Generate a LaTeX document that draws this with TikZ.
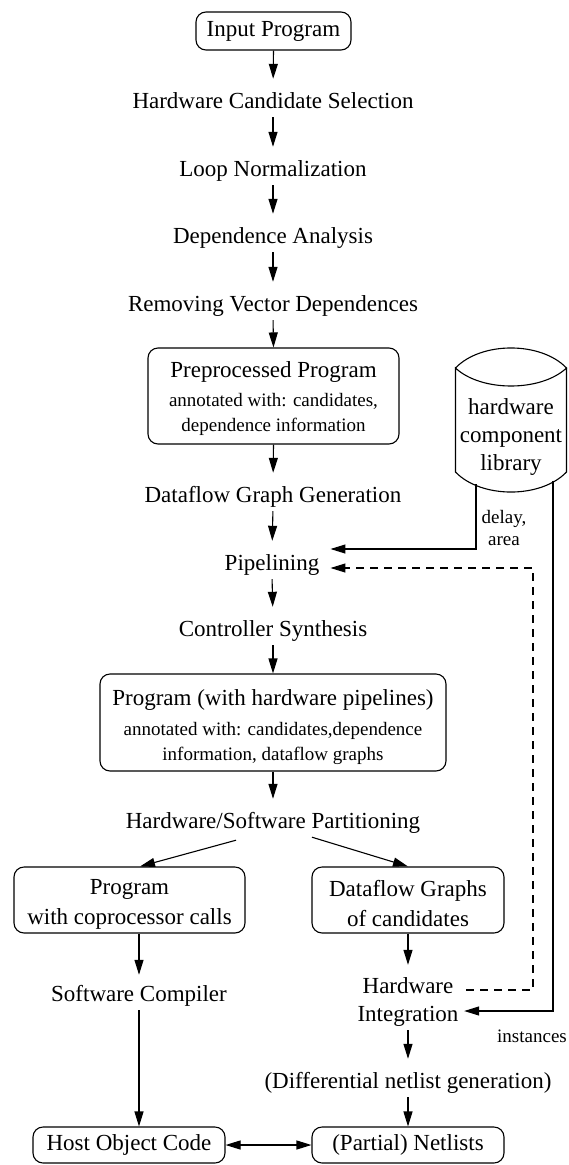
\documentclass[tikz,border=0pt]{standalone}
\usepackage{fontspec}
\setmainfont{Liberation Serif}
\usetikzlibrary{arrows.meta,calc}

\begin{document}
\begin{tikzpicture}[x=1pt,y=-1pt,
  >={Triangle[length=15pt,width=9pt]},
  every node/.style={font=\fontsize{23}{28}\selectfont, inner sep=0pt},
  txt/.style={text height=16pt,text depth=5pt},
  box/.style={draw,rounded corners=10pt,align=center,line width=1.1pt},
  flow/.style={->,line width=1.1pt},
  intext/.style={shorten >=13pt},
  fromtext/.style={shorten <=4pt},
  fb/.style={dash pattern=on 8pt off 6pt}
]
\newcommand{\sm}{\fontsize{19}{25}\selectfont}
\useasboundingbox (0,0) rectangle (568,1165);

% main column
\node[box,minimum width=155pt,minimum height=38pt] (inp) at (273.5,31) {Input Program};
\node[txt] (hcs) at (273,102.5) {Hardware Candidate Selection};
\node[txt] (ln)  at (273,170.5) {Loop Normalization};
\node[txt] (da)  at (273,237.5) {Dependence Analysis};
\node[txt] (rvd) at (273,305.5) {Removing Vector Dependences};
\node[box,minimum width=251pt,minimum height=96pt] (pre) at (273.5,396)
  {\rule{0pt}{22pt}Preprocessed Program\\[1pt]\sm annotated with: candidates,\\[-3pt]\sm dependence information};
\node[txt] (dgg) at (273,496.5) {Dataflow Graph Generation};
\node[txt] (pip) at (272,564.5) {Pipelining};
\node[txt] (cs)  at (273,630.5) {Controller Synthesis};
\node[box,minimum width=346pt,minimum height=97pt] (prog) at (273,722.5)
  {\rule{0pt}{26pt}Program (with hardware pipelines)\\[2pt]\sm annotated with: candidates,dependence\\[-3pt]\sm information, dataflow graphs};
\node[txt] (hsp) at (273,822.5) {Hardware/Software Partitioning};

% software branch
\node[box,minimum width=231pt,minimum height=66pt] (cop) at (129.5,900)
  {\rule{0pt}{23pt}Program\\[2pt]with coprocessor calls};
\node[txt] (sc) at (139,995.5) {Software Compiler};
\node[box,minimum width=192pt,minimum height=36pt] (host) at (129,1145) {Host Object Code};

% hardware branch
\node[box,minimum width=192pt,minimum height=66pt] (dfg) at (408,900)
  {\rule{0pt}{23pt}Dataflow Graphs\\[2pt]of candidates};
\node[align=center] (hi) at (408,1001.5) {Hardware\\Integration};
\node[txt] (dng) at (408,1082.5) {(Differential netlist generation)};
\node[box,minimum width=192pt,minimum height=36pt] (net) at (408,1145) {(Partial) Netlists};

% component library
\node[align=center] (lib) at (511,437) {hardware\\component\\library};
\draw[line width=1.1pt,shift={(lib.center)}]
  (-55.5,-69) .. controls (-30,-95.7) and (30,-95.7) .. (55.5,-69)
  .. controls (30,-45) and (-30,-45) .. (-55.5,-69)
  -- (-55.5,35) .. controls (-30,61.7) and (30,61.7) .. (55.5,35) -- (55.5,-69);
\coordinate (libD) at (476,484);
\coordinate (libI) at (553,480.5);
\node[font=\sm,align=center] (dl) at (504,528) {delay,\\[-3pt]\sm area};
\node[font=\sm] (inst) at (532,1036) {instances};

% main flow
\draw[flow,intext] (inp.south) -- (hcs.north);
\draw[flow,fromtext,intext] (hcs.south) -- (ln.north);
\draw[flow,fromtext,intext] (ln.south) -- (da.north);
\draw[flow,fromtext,intext] (da.south) -- (rvd.north);
\draw[flow,fromtext] (rvd.south) -- (pre.north);
\draw[flow,intext] (pre.south) -- (dgg.north);
\draw[flow,fromtext,intext] (dgg.south) -- (pip.north);
\draw[flow,fromtext,intext] (pip.south) -- (cs.north);
\draw[flow,fromtext] (cs.south) -- (prog.north);
\draw[flow,intext] (prog.south) -- (hsp.north);
\draw[flow] ($(hsp.south)+(-37,7)$) -- ($(cop.north)+(10.5,0)$);
\draw[flow] ($(hsp.south)+(39,4)$) -- (dfg.north);

% branches
\draw[flow,shorten >=10pt] ($(cop.south)+(9.5,0)$) -- (sc.north);
\draw[flow,fromtext] (sc.south) -- ($(host.north)+(10,0)$);
\draw[flow,shorten >=12pt] (dfg.south) -- (hi.north);
\draw[flow,fromtext,intext] (hi.south) -- (dng.north);
\draw[flow,fromtext] (dng.south) -- (net.north);
\draw[<->,line width=1.1pt] (host.east) -- (net.west);

% library feeds and feedback
\coordinate (pipA) at ($(pip.east)+(11,-15.5)$);
\coordinate (pipB) at ($(pip.east)+(11,3.5)$);
\coordinate (hwOut) at ($(hi.east)+(7.5,-11.5)$);
\coordinate (hiIn) at ($(hi.east)+(5.5,9.5)$);
\coordinate (fbTop) at (533,568);
\draw[flow] (libD) |- (pipA);
\draw[flow] (libI) |- (hiIn);
\draw[flow,fb] (hwOut) -| (fbTop) -- (pipB);
\end{tikzpicture}
\end{document}
